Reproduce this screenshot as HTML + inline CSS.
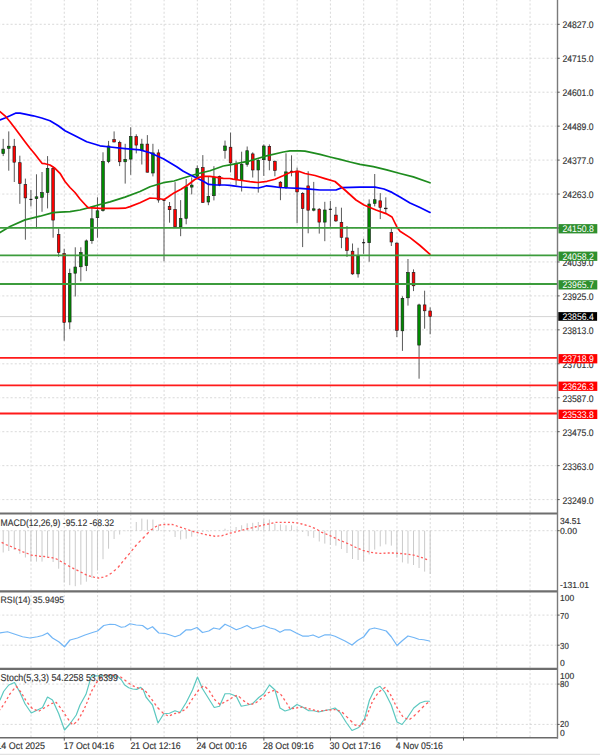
<!DOCTYPE html>
<html><head><meta charset="utf-8"><title>Chart</title>
<style>
html,body{margin:0;padding:0;background:#fff;width:600px;height:755px;overflow:hidden}
svg{display:block;font-family:"Liberation Sans", sans-serif}
</style></head>
<body>
<svg width="600" height="755" viewBox="0 0 600 755" text-rendering="geometricPrecision">
<rect x="0" y="0" width="600" height="755" fill="#ffffff"/>
<line x1="31" y1="0" x2="31" y2="512.3" stroke="#d0d0d0" stroke-width="0.8" stroke-dasharray="2.08 2.075" stroke-dashoffset="0.74"/>
<line x1="64.27" y1="0" x2="64.27" y2="512.3" stroke="#d0d0d0" stroke-width="0.8" stroke-dasharray="2.08 2.075" stroke-dashoffset="0.74"/>
<line x1="97.54" y1="0" x2="97.54" y2="512.3" stroke="#d0d0d0" stroke-width="0.8" stroke-dasharray="2.08 2.075" stroke-dashoffset="0.74"/>
<line x1="130.81" y1="0" x2="130.81" y2="512.3" stroke="#d0d0d0" stroke-width="0.8" stroke-dasharray="2.08 2.075" stroke-dashoffset="0.74"/>
<line x1="164.08" y1="0" x2="164.08" y2="512.3" stroke="#d0d0d0" stroke-width="0.8" stroke-dasharray="2.08 2.075" stroke-dashoffset="0.74"/>
<line x1="197.35" y1="0" x2="197.35" y2="512.3" stroke="#d0d0d0" stroke-width="0.8" stroke-dasharray="2.08 2.075" stroke-dashoffset="0.74"/>
<line x1="230.62" y1="0" x2="230.62" y2="512.3" stroke="#d0d0d0" stroke-width="0.8" stroke-dasharray="2.08 2.075" stroke-dashoffset="0.74"/>
<line x1="263.89" y1="0" x2="263.89" y2="512.3" stroke="#d0d0d0" stroke-width="0.8" stroke-dasharray="2.08 2.075" stroke-dashoffset="0.74"/>
<line x1="297.16" y1="0" x2="297.16" y2="512.3" stroke="#d0d0d0" stroke-width="0.8" stroke-dasharray="2.08 2.075" stroke-dashoffset="0.74"/>
<line x1="330.43" y1="0" x2="330.43" y2="512.3" stroke="#d0d0d0" stroke-width="0.8" stroke-dasharray="2.08 2.075" stroke-dashoffset="0.74"/>
<line x1="363.7" y1="0" x2="363.7" y2="512.3" stroke="#d0d0d0" stroke-width="0.8" stroke-dasharray="2.08 2.075" stroke-dashoffset="0.74"/>
<line x1="396.97" y1="0" x2="396.97" y2="512.3" stroke="#d0d0d0" stroke-width="0.8" stroke-dasharray="2.08 2.075" stroke-dashoffset="0.74"/>
<line x1="430.24" y1="0" x2="430.24" y2="512.3" stroke="#d0d0d0" stroke-width="0.8" stroke-dasharray="2.08 2.075" stroke-dashoffset="0.74"/>
<line x1="463.51" y1="0" x2="463.51" y2="512.3" stroke="#d0d0d0" stroke-width="0.8" stroke-dasharray="2.08 2.075" stroke-dashoffset="0.74"/>
<line x1="496.78" y1="0" x2="496.78" y2="512.3" stroke="#d0d0d0" stroke-width="0.8" stroke-dasharray="2.08 2.075" stroke-dashoffset="0.74"/>
<line x1="530.05" y1="0" x2="530.05" y2="512.3" stroke="#d0d0d0" stroke-width="0.8" stroke-dasharray="2.08 2.075" stroke-dashoffset="0.74"/>
<line x1="31" y1="514.5" x2="31" y2="589.8" stroke="#d0d0d0" stroke-width="0.8" stroke-dasharray="2.08 2.075" stroke-dashoffset="0.74"/>
<line x1="64.27" y1="514.5" x2="64.27" y2="589.8" stroke="#d0d0d0" stroke-width="0.8" stroke-dasharray="2.08 2.075" stroke-dashoffset="0.74"/>
<line x1="97.54" y1="514.5" x2="97.54" y2="589.8" stroke="#d0d0d0" stroke-width="0.8" stroke-dasharray="2.08 2.075" stroke-dashoffset="0.74"/>
<line x1="130.81" y1="514.5" x2="130.81" y2="589.8" stroke="#d0d0d0" stroke-width="0.8" stroke-dasharray="2.08 2.075" stroke-dashoffset="0.74"/>
<line x1="164.08" y1="514.5" x2="164.08" y2="589.8" stroke="#d0d0d0" stroke-width="0.8" stroke-dasharray="2.08 2.075" stroke-dashoffset="0.74"/>
<line x1="197.35" y1="514.5" x2="197.35" y2="589.8" stroke="#d0d0d0" stroke-width="0.8" stroke-dasharray="2.08 2.075" stroke-dashoffset="0.74"/>
<line x1="230.62" y1="514.5" x2="230.62" y2="589.8" stroke="#d0d0d0" stroke-width="0.8" stroke-dasharray="2.08 2.075" stroke-dashoffset="0.74"/>
<line x1="263.89" y1="514.5" x2="263.89" y2="589.8" stroke="#d0d0d0" stroke-width="0.8" stroke-dasharray="2.08 2.075" stroke-dashoffset="0.74"/>
<line x1="297.16" y1="514.5" x2="297.16" y2="589.8" stroke="#d0d0d0" stroke-width="0.8" stroke-dasharray="2.08 2.075" stroke-dashoffset="0.74"/>
<line x1="330.43" y1="514.5" x2="330.43" y2="589.8" stroke="#d0d0d0" stroke-width="0.8" stroke-dasharray="2.08 2.075" stroke-dashoffset="0.74"/>
<line x1="363.7" y1="514.5" x2="363.7" y2="589.8" stroke="#d0d0d0" stroke-width="0.8" stroke-dasharray="2.08 2.075" stroke-dashoffset="0.74"/>
<line x1="396.97" y1="514.5" x2="396.97" y2="589.8" stroke="#d0d0d0" stroke-width="0.8" stroke-dasharray="2.08 2.075" stroke-dashoffset="0.74"/>
<line x1="430.24" y1="514.5" x2="430.24" y2="589.8" stroke="#d0d0d0" stroke-width="0.8" stroke-dasharray="2.08 2.075" stroke-dashoffset="0.74"/>
<line x1="463.51" y1="514.5" x2="463.51" y2="589.8" stroke="#d0d0d0" stroke-width="0.8" stroke-dasharray="2.08 2.075" stroke-dashoffset="0.74"/>
<line x1="496.78" y1="514.5" x2="496.78" y2="589.8" stroke="#d0d0d0" stroke-width="0.8" stroke-dasharray="2.08 2.075" stroke-dashoffset="0.74"/>
<line x1="530.05" y1="514.5" x2="530.05" y2="589.8" stroke="#d0d0d0" stroke-width="0.8" stroke-dasharray="2.08 2.075" stroke-dashoffset="0.74"/>
<line x1="31" y1="591.6" x2="31" y2="667.8" stroke="#d0d0d0" stroke-width="0.8" stroke-dasharray="2.08 2.075" stroke-dashoffset="0.74"/>
<line x1="64.27" y1="591.6" x2="64.27" y2="667.8" stroke="#d0d0d0" stroke-width="0.8" stroke-dasharray="2.08 2.075" stroke-dashoffset="0.74"/>
<line x1="97.54" y1="591.6" x2="97.54" y2="667.8" stroke="#d0d0d0" stroke-width="0.8" stroke-dasharray="2.08 2.075" stroke-dashoffset="0.74"/>
<line x1="130.81" y1="591.6" x2="130.81" y2="667.8" stroke="#d0d0d0" stroke-width="0.8" stroke-dasharray="2.08 2.075" stroke-dashoffset="0.74"/>
<line x1="164.08" y1="591.6" x2="164.08" y2="667.8" stroke="#d0d0d0" stroke-width="0.8" stroke-dasharray="2.08 2.075" stroke-dashoffset="0.74"/>
<line x1="197.35" y1="591.6" x2="197.35" y2="667.8" stroke="#d0d0d0" stroke-width="0.8" stroke-dasharray="2.08 2.075" stroke-dashoffset="0.74"/>
<line x1="230.62" y1="591.6" x2="230.62" y2="667.8" stroke="#d0d0d0" stroke-width="0.8" stroke-dasharray="2.08 2.075" stroke-dashoffset="0.74"/>
<line x1="263.89" y1="591.6" x2="263.89" y2="667.8" stroke="#d0d0d0" stroke-width="0.8" stroke-dasharray="2.08 2.075" stroke-dashoffset="0.74"/>
<line x1="297.16" y1="591.6" x2="297.16" y2="667.8" stroke="#d0d0d0" stroke-width="0.8" stroke-dasharray="2.08 2.075" stroke-dashoffset="0.74"/>
<line x1="330.43" y1="591.6" x2="330.43" y2="667.8" stroke="#d0d0d0" stroke-width="0.8" stroke-dasharray="2.08 2.075" stroke-dashoffset="0.74"/>
<line x1="363.7" y1="591.6" x2="363.7" y2="667.8" stroke="#d0d0d0" stroke-width="0.8" stroke-dasharray="2.08 2.075" stroke-dashoffset="0.74"/>
<line x1="396.97" y1="591.6" x2="396.97" y2="667.8" stroke="#d0d0d0" stroke-width="0.8" stroke-dasharray="2.08 2.075" stroke-dashoffset="0.74"/>
<line x1="430.24" y1="591.6" x2="430.24" y2="667.8" stroke="#d0d0d0" stroke-width="0.8" stroke-dasharray="2.08 2.075" stroke-dashoffset="0.74"/>
<line x1="463.51" y1="591.6" x2="463.51" y2="667.8" stroke="#d0d0d0" stroke-width="0.8" stroke-dasharray="2.08 2.075" stroke-dashoffset="0.74"/>
<line x1="496.78" y1="591.6" x2="496.78" y2="667.8" stroke="#d0d0d0" stroke-width="0.8" stroke-dasharray="2.08 2.075" stroke-dashoffset="0.74"/>
<line x1="530.05" y1="591.6" x2="530.05" y2="667.8" stroke="#d0d0d0" stroke-width="0.8" stroke-dasharray="2.08 2.075" stroke-dashoffset="0.74"/>
<line x1="31" y1="669.6" x2="31" y2="737.6" stroke="#d0d0d0" stroke-width="0.8" stroke-dasharray="2.08 2.075" stroke-dashoffset="0.74"/>
<line x1="64.27" y1="669.6" x2="64.27" y2="737.6" stroke="#d0d0d0" stroke-width="0.8" stroke-dasharray="2.08 2.075" stroke-dashoffset="0.74"/>
<line x1="97.54" y1="669.6" x2="97.54" y2="737.6" stroke="#d0d0d0" stroke-width="0.8" stroke-dasharray="2.08 2.075" stroke-dashoffset="0.74"/>
<line x1="130.81" y1="669.6" x2="130.81" y2="737.6" stroke="#d0d0d0" stroke-width="0.8" stroke-dasharray="2.08 2.075" stroke-dashoffset="0.74"/>
<line x1="164.08" y1="669.6" x2="164.08" y2="737.6" stroke="#d0d0d0" stroke-width="0.8" stroke-dasharray="2.08 2.075" stroke-dashoffset="0.74"/>
<line x1="197.35" y1="669.6" x2="197.35" y2="737.6" stroke="#d0d0d0" stroke-width="0.8" stroke-dasharray="2.08 2.075" stroke-dashoffset="0.74"/>
<line x1="230.62" y1="669.6" x2="230.62" y2="737.6" stroke="#d0d0d0" stroke-width="0.8" stroke-dasharray="2.08 2.075" stroke-dashoffset="0.74"/>
<line x1="263.89" y1="669.6" x2="263.89" y2="737.6" stroke="#d0d0d0" stroke-width="0.8" stroke-dasharray="2.08 2.075" stroke-dashoffset="0.74"/>
<line x1="297.16" y1="669.6" x2="297.16" y2="737.6" stroke="#d0d0d0" stroke-width="0.8" stroke-dasharray="2.08 2.075" stroke-dashoffset="0.74"/>
<line x1="330.43" y1="669.6" x2="330.43" y2="737.6" stroke="#d0d0d0" stroke-width="0.8" stroke-dasharray="2.08 2.075" stroke-dashoffset="0.74"/>
<line x1="363.7" y1="669.6" x2="363.7" y2="737.6" stroke="#d0d0d0" stroke-width="0.8" stroke-dasharray="2.08 2.075" stroke-dashoffset="0.74"/>
<line x1="396.97" y1="669.6" x2="396.97" y2="737.6" stroke="#d0d0d0" stroke-width="0.8" stroke-dasharray="2.08 2.075" stroke-dashoffset="0.74"/>
<line x1="430.24" y1="669.6" x2="430.24" y2="737.6" stroke="#d0d0d0" stroke-width="0.8" stroke-dasharray="2.08 2.075" stroke-dashoffset="0.74"/>
<line x1="463.51" y1="669.6" x2="463.51" y2="737.6" stroke="#d0d0d0" stroke-width="0.8" stroke-dasharray="2.08 2.075" stroke-dashoffset="0.74"/>
<line x1="496.78" y1="669.6" x2="496.78" y2="737.6" stroke="#d0d0d0" stroke-width="0.8" stroke-dasharray="2.08 2.075" stroke-dashoffset="0.74"/>
<line x1="530.05" y1="669.6" x2="530.05" y2="737.6" stroke="#d0d0d0" stroke-width="0.8" stroke-dasharray="2.08 2.075" stroke-dashoffset="0.74"/>
<line x1="0" y1="24.3" x2="556.5" y2="24.3" stroke="#d0d0d0" stroke-width="0.8" stroke-dasharray="2.08 2.075" stroke-dashoffset="1.9"/>
<line x1="0" y1="58.25" x2="556.5" y2="58.25" stroke="#d0d0d0" stroke-width="0.8" stroke-dasharray="2.08 2.075" stroke-dashoffset="1.9"/>
<line x1="0" y1="92.2" x2="556.5" y2="92.2" stroke="#d0d0d0" stroke-width="0.8" stroke-dasharray="2.08 2.075" stroke-dashoffset="1.9"/>
<line x1="0" y1="126.15" x2="556.5" y2="126.15" stroke="#d0d0d0" stroke-width="0.8" stroke-dasharray="2.08 2.075" stroke-dashoffset="1.9"/>
<line x1="0" y1="160.1" x2="556.5" y2="160.1" stroke="#d0d0d0" stroke-width="0.8" stroke-dasharray="2.08 2.075" stroke-dashoffset="1.9"/>
<line x1="0" y1="194.05" x2="556.5" y2="194.05" stroke="#d0d0d0" stroke-width="0.8" stroke-dasharray="2.08 2.075" stroke-dashoffset="1.9"/>
<line x1="0" y1="228" x2="556.5" y2="228" stroke="#d0d0d0" stroke-width="0.8" stroke-dasharray="2.08 2.075" stroke-dashoffset="1.9"/>
<line x1="0" y1="261.95" x2="556.5" y2="261.95" stroke="#d0d0d0" stroke-width="0.8" stroke-dasharray="2.08 2.075" stroke-dashoffset="1.9"/>
<line x1="0" y1="295.9" x2="556.5" y2="295.9" stroke="#d0d0d0" stroke-width="0.8" stroke-dasharray="2.08 2.075" stroke-dashoffset="1.9"/>
<line x1="0" y1="329.85" x2="556.5" y2="329.85" stroke="#d0d0d0" stroke-width="0.8" stroke-dasharray="2.08 2.075" stroke-dashoffset="1.9"/>
<line x1="0" y1="363.8" x2="556.5" y2="363.8" stroke="#d0d0d0" stroke-width="0.8" stroke-dasharray="2.08 2.075" stroke-dashoffset="1.9"/>
<line x1="0" y1="397.75" x2="556.5" y2="397.75" stroke="#d0d0d0" stroke-width="0.8" stroke-dasharray="2.08 2.075" stroke-dashoffset="1.9"/>
<line x1="0" y1="431.7" x2="556.5" y2="431.7" stroke="#d0d0d0" stroke-width="0.8" stroke-dasharray="2.08 2.075" stroke-dashoffset="1.9"/>
<line x1="0" y1="465.65" x2="556.5" y2="465.65" stroke="#d0d0d0" stroke-width="0.8" stroke-dasharray="2.08 2.075" stroke-dashoffset="1.9"/>
<line x1="0" y1="499.6" x2="556.5" y2="499.6" stroke="#d0d0d0" stroke-width="0.8" stroke-dasharray="2.08 2.075" stroke-dashoffset="1.9"/>
<line x1="0" y1="530.7" x2="556.5" y2="530.7" stroke="#d0d0d0" stroke-width="0.8" stroke-dasharray="2.08 2.075" stroke-dashoffset="1.9"/>
<line x1="0" y1="615.1" x2="556.5" y2="615.1" stroke="#d0d0d0" stroke-width="0.8" stroke-dasharray="2.08 2.075" stroke-dashoffset="1.9"/>
<line x1="0" y1="645.2" x2="556.5" y2="645.2" stroke="#d0d0d0" stroke-width="0.8" stroke-dasharray="2.08 2.075" stroke-dashoffset="1.9"/>
<line x1="0" y1="684.1" x2="556.5" y2="684.1" stroke="#d0d0d0" stroke-width="0.8" stroke-dasharray="2.08 2.075" stroke-dashoffset="1.9"/>
<line x1="0" y1="724.4" x2="556.5" y2="724.4" stroke="#d0d0d0" stroke-width="0.8" stroke-dasharray="2.08 2.075" stroke-dashoffset="1.9"/>
<line x1="0" y1="316.6" x2="557.5" y2="316.6" stroke="#c8c8c8" stroke-width="0.8"/>
<line x1="3.2" y1="138.9" x2="3.2" y2="156.1" stroke="#5a5a5a" stroke-width="1"/>
<rect x="1.85" y="149.1" width="2.7" height="4.5" fill="#008a00" stroke="#1a1a1a" stroke-width="0.6"/>
<line x1="8.75" y1="131.4" x2="8.75" y2="170.7" stroke="#5a5a5a" stroke-width="1"/>
<rect x="7.4" y="146.2" width="2.7" height="2.1" fill="#008a00" stroke="#1a1a1a" stroke-width="0.6"/>
<line x1="14.29" y1="138.9" x2="14.29" y2="182" stroke="#5a5a5a" stroke-width="1"/>
<rect x="12.94" y="146.2" width="2.7" height="16" fill="#ff0000" stroke="#1a1a1a" stroke-width="0.6"/>
<line x1="19.83" y1="155.7" x2="19.83" y2="203.8" stroke="#5a5a5a" stroke-width="1"/>
<rect x="18.48" y="162.7" width="2.7" height="20.7" fill="#ff0000" stroke="#1a1a1a" stroke-width="0.6"/>
<line x1="25.38" y1="178.6" x2="25.38" y2="239.7" stroke="#5a5a5a" stroke-width="1"/>
<rect x="24.03" y="184.6" width="2.7" height="13.3" fill="#ff0000" stroke="#1a1a1a" stroke-width="0.6"/>
<line x1="30.93" y1="189.9" x2="30.93" y2="206.5" stroke="#5a5a5a" stroke-width="1"/>
<line x1="29.43" y1="199.4" x2="32.42" y2="199.4" stroke="#111" stroke-width="1.1"/>
<line x1="36.47" y1="174.3" x2="36.47" y2="228.5" stroke="#5a5a5a" stroke-width="1"/>
<rect x="35.12" y="196.8" width="2.7" height="1.8" fill="#008a00" stroke="#1a1a1a" stroke-width="0.6"/>
<line x1="42.02" y1="172" x2="42.02" y2="211.8" stroke="#5a5a5a" stroke-width="1"/>
<rect x="40.66" y="192.6" width="2.7" height="4.7" fill="#008a00" stroke="#1a1a1a" stroke-width="0.6"/>
<line x1="47.56" y1="156.1" x2="47.56" y2="208.4" stroke="#5a5a5a" stroke-width="1"/>
<rect x="46.21" y="168.3" width="2.7" height="24.2" fill="#008a00" stroke="#1a1a1a" stroke-width="0.6"/>
<line x1="53.11" y1="166.7" x2="53.11" y2="237.7" stroke="#5a5a5a" stroke-width="1"/>
<rect x="51.76" y="168.3" width="2.7" height="51.8" fill="#ff0000" stroke="#1a1a1a" stroke-width="0.6"/>
<line x1="58.65" y1="228.5" x2="58.65" y2="256.8" stroke="#5a5a5a" stroke-width="1"/>
<rect x="57.3" y="234.5" width="2.7" height="18" fill="#ff0000" stroke="#1a1a1a" stroke-width="0.6"/>
<line x1="64.19" y1="248.8" x2="64.19" y2="340.7" stroke="#5a5a5a" stroke-width="1"/>
<rect x="62.84" y="253.6" width="2.7" height="68.9" fill="#ff0000" stroke="#1a1a1a" stroke-width="0.6"/>
<line x1="69.74" y1="268.7" x2="69.74" y2="329.1" stroke="#5a5a5a" stroke-width="1"/>
<rect x="68.39" y="273.3" width="2.7" height="48.7" fill="#008a00" stroke="#1a1a1a" stroke-width="0.6"/>
<line x1="75.28" y1="247.3" x2="75.28" y2="296.5" stroke="#5a5a5a" stroke-width="1"/>
<rect x="73.93" y="267" width="2.7" height="6.2" fill="#008a00" stroke="#1a1a1a" stroke-width="0.6"/>
<line x1="80.83" y1="247.3" x2="80.83" y2="281.4" stroke="#5a5a5a" stroke-width="1"/>
<rect x="79.48" y="252.6" width="2.7" height="14.2" fill="#008a00" stroke="#1a1a1a" stroke-width="0.6"/>
<line x1="86.38" y1="239.5" x2="86.38" y2="271.1" stroke="#5a5a5a" stroke-width="1"/>
<rect x="85.02" y="240.9" width="2.7" height="24.8" fill="#008a00" stroke="#1a1a1a" stroke-width="0.6"/>
<line x1="91.92" y1="207.7" x2="91.92" y2="243.8" stroke="#5a5a5a" stroke-width="1"/>
<rect x="90.57" y="218.8" width="2.7" height="21.9" fill="#008a00" stroke="#1a1a1a" stroke-width="0.6"/>
<line x1="97.47" y1="197.3" x2="97.47" y2="237.7" stroke="#5a5a5a" stroke-width="1"/>
<rect x="96.11" y="210.8" width="2.7" height="6.9" fill="#008a00" stroke="#1a1a1a" stroke-width="0.6"/>
<line x1="103.01" y1="152.3" x2="103.01" y2="211.6" stroke="#5a5a5a" stroke-width="1"/>
<rect x="101.66" y="161.5" width="2.7" height="49.1" fill="#008a00" stroke="#1a1a1a" stroke-width="0.6"/>
<line x1="108.56" y1="140.9" x2="108.56" y2="163.2" stroke="#5a5a5a" stroke-width="1"/>
<rect x="107.2" y="146" width="2.7" height="15.6" fill="#008a00" stroke="#1a1a1a" stroke-width="0.6"/>
<line x1="114.1" y1="131.4" x2="114.1" y2="142.3" stroke="#5a5a5a" stroke-width="1"/>
<rect x="112.75" y="139.6" width="2.7" height="2.4" fill="#ff0000" stroke="#1a1a1a" stroke-width="0.6"/>
<line x1="119.64" y1="140.7" x2="119.64" y2="166.1" stroke="#5a5a5a" stroke-width="1"/>
<rect x="118.29" y="142.6" width="2.7" height="19.2" fill="#ff0000" stroke="#1a1a1a" stroke-width="0.6"/>
<line x1="125.19" y1="143.8" x2="125.19" y2="183.6" stroke="#5a5a5a" stroke-width="1"/>
<rect x="123.84" y="159.3" width="2.7" height="2.5" fill="#008a00" stroke="#1a1a1a" stroke-width="0.6"/>
<line x1="130.73" y1="127.2" x2="130.73" y2="174.8" stroke="#5a5a5a" stroke-width="1"/>
<rect x="129.38" y="136.5" width="2.7" height="22.6" fill="#008a00" stroke="#1a1a1a" stroke-width="0.6"/>
<line x1="136.28" y1="134.3" x2="136.28" y2="153.4" stroke="#5a5a5a" stroke-width="1"/>
<rect x="134.93" y="136.5" width="2.7" height="8.6" fill="#ff0000" stroke="#1a1a1a" stroke-width="0.6"/>
<line x1="141.82" y1="138.8" x2="141.82" y2="164.5" stroke="#5a5a5a" stroke-width="1"/>
<rect x="140.47" y="144.1" width="2.7" height="5.8" fill="#008a00" stroke="#1a1a1a" stroke-width="0.6"/>
<line x1="147.37" y1="135.1" x2="147.37" y2="172.5" stroke="#5a5a5a" stroke-width="1"/>
<rect x="146.02" y="144.1" width="2.7" height="28.1" fill="#ff0000" stroke="#1a1a1a" stroke-width="0.6"/>
<line x1="152.91" y1="143.8" x2="152.91" y2="176.4" stroke="#5a5a5a" stroke-width="1"/>
<rect x="151.56" y="152.9" width="2.7" height="20.1" fill="#008a00" stroke="#1a1a1a" stroke-width="0.6"/>
<line x1="158.46" y1="149.4" x2="158.46" y2="202.7" stroke="#5a5a5a" stroke-width="1"/>
<rect x="157.11" y="152.9" width="2.7" height="47.1" fill="#ff0000" stroke="#1a1a1a" stroke-width="0.6"/>
<line x1="164" y1="198.8" x2="164" y2="261.3" stroke="#5a5a5a" stroke-width="1"/>
<line x1="162.5" y1="200.3" x2="165.5" y2="200.3" stroke="#111" stroke-width="1.1"/>
<line x1="169.55" y1="202" x2="169.55" y2="222.7" stroke="#5a5a5a" stroke-width="1"/>
<rect x="168.2" y="206.3" width="2.7" height="3.4" fill="#ff0000" stroke="#1a1a1a" stroke-width="0.6"/>
<line x1="175.09" y1="182.1" x2="175.09" y2="227.1" stroke="#5a5a5a" stroke-width="1"/>
<rect x="173.75" y="209.5" width="2.7" height="17.3" fill="#ff0000" stroke="#1a1a1a" stroke-width="0.6"/>
<line x1="180.64" y1="200.1" x2="180.64" y2="236.2" stroke="#5a5a5a" stroke-width="1"/>
<rect x="179.29" y="218.5" width="2.7" height="8.3" fill="#008a00" stroke="#1a1a1a" stroke-width="0.6"/>
<line x1="186.18" y1="179" x2="186.18" y2="224.3" stroke="#5a5a5a" stroke-width="1"/>
<rect x="184.83" y="186.7" width="2.7" height="31.7" fill="#008a00" stroke="#1a1a1a" stroke-width="0.6"/>
<line x1="191.73" y1="177.4" x2="191.73" y2="194.4" stroke="#5a5a5a" stroke-width="1"/>
<rect x="190.38" y="185.1" width="2.7" height="2" fill="#008a00" stroke="#1a1a1a" stroke-width="0.6"/>
<line x1="197.27" y1="165.4" x2="197.27" y2="178.2" stroke="#5a5a5a" stroke-width="1"/>
<rect x="195.92" y="168.6" width="2.7" height="7.7" fill="#008a00" stroke="#1a1a1a" stroke-width="0.6"/>
<line x1="202.82" y1="155.1" x2="202.82" y2="202.8" stroke="#5a5a5a" stroke-width="1"/>
<rect x="201.47" y="167.6" width="2.7" height="34.9" fill="#ff0000" stroke="#1a1a1a" stroke-width="0.6"/>
<line x1="208.36" y1="176.6" x2="208.36" y2="205.2" stroke="#5a5a5a" stroke-width="1"/>
<rect x="207.01" y="196.3" width="2.7" height="5.7" fill="#008a00" stroke="#1a1a1a" stroke-width="0.6"/>
<line x1="213.91" y1="166.2" x2="213.91" y2="200.4" stroke="#5a5a5a" stroke-width="1"/>
<rect x="212.56" y="177.7" width="2.7" height="18" fill="#008a00" stroke="#1a1a1a" stroke-width="0.6"/>
<line x1="219.45" y1="175.6" x2="219.45" y2="186.2" stroke="#5a5a5a" stroke-width="1"/>
<rect x="218.1" y="176.5" width="2.7" height="8.6" fill="#ff0000" stroke="#1a1a1a" stroke-width="0.6"/>
<line x1="225" y1="140.6" x2="225" y2="158.7" stroke="#5a5a5a" stroke-width="1"/>
<rect x="223.65" y="146" width="2.7" height="4.5" fill="#008a00" stroke="#1a1a1a" stroke-width="0.6"/>
<line x1="230.54" y1="132.6" x2="230.54" y2="172.4" stroke="#5a5a5a" stroke-width="1"/>
<rect x="229.19" y="147.2" width="2.7" height="15.7" fill="#ff0000" stroke="#1a1a1a" stroke-width="0.6"/>
<line x1="236.09" y1="160.8" x2="236.09" y2="185.4" stroke="#5a5a5a" stroke-width="1"/>
<rect x="234.74" y="163.5" width="2.7" height="16" fill="#ff0000" stroke="#1a1a1a" stroke-width="0.6"/>
<line x1="241.63" y1="151.7" x2="241.63" y2="191.5" stroke="#5a5a5a" stroke-width="1"/>
<rect x="240.28" y="164.3" width="2.7" height="16" fill="#008a00" stroke="#1a1a1a" stroke-width="0.6"/>
<line x1="247.18" y1="146.5" x2="247.18" y2="166.7" stroke="#5a5a5a" stroke-width="1"/>
<rect x="245.83" y="150.7" width="2.7" height="13.7" fill="#008a00" stroke="#1a1a1a" stroke-width="0.6"/>
<line x1="252.72" y1="152.3" x2="252.72" y2="177.5" stroke="#5a5a5a" stroke-width="1"/>
<rect x="251.38" y="153.9" width="2.7" height="16.1" fill="#ff0000" stroke="#1a1a1a" stroke-width="0.6"/>
<line x1="258.27" y1="159.2" x2="258.27" y2="192.6" stroke="#5a5a5a" stroke-width="1"/>
<rect x="256.92" y="160.3" width="2.7" height="9.7" fill="#008a00" stroke="#1a1a1a" stroke-width="0.6"/>
<line x1="263.81" y1="144.4" x2="263.81" y2="175.9" stroke="#5a5a5a" stroke-width="1"/>
<rect x="262.47" y="146" width="2.7" height="13.7" fill="#008a00" stroke="#1a1a1a" stroke-width="0.6"/>
<line x1="269.36" y1="144.4" x2="269.36" y2="170.3" stroke="#5a5a5a" stroke-width="1"/>
<rect x="268.01" y="146.3" width="2.7" height="14.2" fill="#ff0000" stroke="#1a1a1a" stroke-width="0.6"/>
<line x1="274.9" y1="160.4" x2="274.9" y2="176.3" stroke="#5a5a5a" stroke-width="1"/>
<rect x="273.56" y="161.5" width="2.7" height="9" fill="#ff0000" stroke="#1a1a1a" stroke-width="0.6"/>
<line x1="280.45" y1="181.1" x2="280.45" y2="200.2" stroke="#5a5a5a" stroke-width="1"/>
<rect x="279.1" y="182.2" width="2.7" height="5" fill="#ff0000" stroke="#1a1a1a" stroke-width="0.6"/>
<line x1="286" y1="153.3" x2="286" y2="189" stroke="#5a5a5a" stroke-width="1"/>
<rect x="284.65" y="171.9" width="2.7" height="15.3" fill="#008a00" stroke="#1a1a1a" stroke-width="0.6"/>
<line x1="291.54" y1="155.3" x2="291.54" y2="176.3" stroke="#5a5a5a" stroke-width="1"/>
<line x1="290.04" y1="171.35" x2="293.04" y2="171.35" stroke="#111" stroke-width="1.1"/>
<line x1="297.08" y1="167.6" x2="297.08" y2="223.2" stroke="#5a5a5a" stroke-width="1"/>
<rect x="295.74" y="171.1" width="2.7" height="20.8" fill="#ff0000" stroke="#1a1a1a" stroke-width="0.6"/>
<line x1="302.63" y1="192.2" x2="302.63" y2="247.1" stroke="#5a5a5a" stroke-width="1"/>
<rect x="301.28" y="193.3" width="2.7" height="15.3" fill="#ff0000" stroke="#1a1a1a" stroke-width="0.6"/>
<line x1="308.18" y1="171.2" x2="308.18" y2="233.3" stroke="#5a5a5a" stroke-width="1"/>
<rect x="306.83" y="185.9" width="2.7" height="24.3" fill="#ff0000" stroke="#1a1a1a" stroke-width="0.6"/>
<line x1="313.72" y1="181.9" x2="313.72" y2="211.3" stroke="#5a5a5a" stroke-width="1"/>
<rect x="312.37" y="208.8" width="2.7" height="1.4" fill="#008a00" stroke="#1a1a1a" stroke-width="0.6"/>
<line x1="319.26" y1="208.1" x2="319.26" y2="233.6" stroke="#5a5a5a" stroke-width="1"/>
<rect x="317.92" y="209.2" width="2.7" height="12.9" fill="#ff0000" stroke="#1a1a1a" stroke-width="0.6"/>
<line x1="324.81" y1="201.8" x2="324.81" y2="241.2" stroke="#5a5a5a" stroke-width="1"/>
<rect x="323.46" y="210" width="2.7" height="12.1" fill="#008a00" stroke="#1a1a1a" stroke-width="0.6"/>
<line x1="330.35" y1="201" x2="330.35" y2="226.8" stroke="#5a5a5a" stroke-width="1"/>
<line x1="328.85" y1="209.3" x2="331.85" y2="209.3" stroke="#111" stroke-width="1.1"/>
<line x1="335.9" y1="206.9" x2="335.9" y2="222" stroke="#5a5a5a" stroke-width="1"/>
<rect x="334.55" y="215.1" width="2.7" height="5.8" fill="#ff0000" stroke="#1a1a1a" stroke-width="0.6"/>
<line x1="341.44" y1="207.7" x2="341.44" y2="248.2" stroke="#5a5a5a" stroke-width="1"/>
<rect x="340.1" y="222.3" width="2.7" height="15" fill="#ff0000" stroke="#1a1a1a" stroke-width="0.6"/>
<line x1="346.99" y1="226" x2="346.99" y2="257" stroke="#5a5a5a" stroke-width="1"/>
<rect x="345.64" y="237.9" width="2.7" height="12.7" fill="#ff0000" stroke="#1a1a1a" stroke-width="0.6"/>
<line x1="352.53" y1="243.5" x2="352.53" y2="274.8" stroke="#5a5a5a" stroke-width="1"/>
<rect x="351.19" y="251.2" width="2.7" height="22.7" fill="#ff0000" stroke="#1a1a1a" stroke-width="0.6"/>
<line x1="358.08" y1="247.8" x2="358.08" y2="277.6" stroke="#5a5a5a" stroke-width="1"/>
<rect x="356.73" y="256" width="2.7" height="17.9" fill="#008a00" stroke="#1a1a1a" stroke-width="0.6"/>
<line x1="363.62" y1="238.7" x2="363.62" y2="253.8" stroke="#5a5a5a" stroke-width="1"/>
<line x1="362.12" y1="242.7" x2="365.12" y2="242.7" stroke="#111" stroke-width="1.1"/>
<line x1="369.17" y1="199.4" x2="369.17" y2="261.7" stroke="#5a5a5a" stroke-width="1"/>
<rect x="367.82" y="204" width="2.7" height="38.7" fill="#008a00" stroke="#1a1a1a" stroke-width="0.6"/>
<line x1="374.71" y1="174" x2="374.71" y2="206.4" stroke="#5a5a5a" stroke-width="1"/>
<rect x="373.37" y="199.7" width="2.7" height="3.7" fill="#008a00" stroke="#1a1a1a" stroke-width="0.6"/>
<line x1="380.26" y1="193.1" x2="380.26" y2="219.1" stroke="#5a5a5a" stroke-width="1"/>
<rect x="378.91" y="200.8" width="2.7" height="6.6" fill="#ff0000" stroke="#1a1a1a" stroke-width="0.6"/>
<line x1="385.81" y1="197.3" x2="385.81" y2="213.7" stroke="#5a5a5a" stroke-width="1"/>
<rect x="384.46" y="208.1" width="2.7" height="0.7" fill="#ff0000" stroke="#1a1a1a" stroke-width="0.6"/>
<line x1="391.35" y1="228" x2="391.35" y2="246" stroke="#5a5a5a" stroke-width="1"/>
<rect x="390" y="232.6" width="2.7" height="9.4" fill="#ff0000" stroke="#1a1a1a" stroke-width="0.6"/>
<line x1="396.89" y1="242.3" x2="396.89" y2="337" stroke="#5a5a5a" stroke-width="1"/>
<rect x="395.55" y="243.1" width="2.7" height="87.2" fill="#ff0000" stroke="#1a1a1a" stroke-width="0.6"/>
<line x1="402.44" y1="296.3" x2="402.44" y2="350.9" stroke="#5a5a5a" stroke-width="1"/>
<rect x="401.09" y="298.4" width="2.7" height="32.4" fill="#008a00" stroke="#1a1a1a" stroke-width="0.6"/>
<line x1="407.98" y1="259" x2="407.98" y2="305.6" stroke="#5a5a5a" stroke-width="1"/>
<rect x="406.63" y="272.5" width="2.7" height="25.3" fill="#008a00" stroke="#1a1a1a" stroke-width="0.6"/>
<line x1="413.53" y1="269.4" x2="413.53" y2="291.1" stroke="#5a5a5a" stroke-width="1"/>
<rect x="412.18" y="272.5" width="2.7" height="13.3" fill="#ff0000" stroke="#1a1a1a" stroke-width="0.6"/>
<line x1="419.07" y1="303.7" x2="419.07" y2="378.7" stroke="#5a5a5a" stroke-width="1"/>
<rect x="417.73" y="304.9" width="2.7" height="40.2" fill="#008a00" stroke="#1a1a1a" stroke-width="0.6"/>
<line x1="424.62" y1="290.7" x2="424.62" y2="328.7" stroke="#5a5a5a" stroke-width="1"/>
<rect x="423.27" y="304.9" width="2.7" height="5.9" fill="#ff0000" stroke="#1a1a1a" stroke-width="0.6"/>
<line x1="430.16" y1="307.4" x2="430.16" y2="334.3" stroke="#5a5a5a" stroke-width="1"/>
<rect x="428.81" y="311" width="2.7" height="5.4" fill="#ff0000" stroke="#1a1a1a" stroke-width="0.6"/>
<polyline points="0,232.5 10,226.5 25,219.9 40,216.2 53,212.6 60,212.2 70,211.6 80,210 90,207.4 100,204.5 110,201.9 125,197.1 140,191.5 150,186.7 163.3,182.7 174,181 183.3,178 196.7,174 210,170.7 223.3,166 230,164.8 250,160.8 266.7,155.8 283.3,152 290,150.8 300,150.8 305,151.2 320,154.4 330,157 340,159.4 350,162 360,164.4 373.3,166.7 386.7,169.9 400,173.5 413.3,176.9 430,182.8" fill="none" stroke="#1e8c1e" stroke-width="1.7" stroke-linejoin="round" stroke-linecap="round"/>
<polyline points="0,120 5,118 10,115.8 16,113 20,113.2 25,114.2 33.3,115.8 41.7,118 50,120.8 58.3,125.8 65,130.8 75,135.8 86.7,141.7 100,145.8 110,147 125,148.6 140,149.9 150,152.7 163.3,158.7 176.7,166.7 183.3,171.3 190,174.7 196.7,178 203.3,181.3 208.7,184.4 216.7,185 224.7,185 230,185.3 233.3,185.8 241.7,187 250,187.5 258.3,188 263.3,186.7 266.7,185.8 271.7,186.3 280,187.5 290,188 300,188.3 310,189.1 320,190 336,190 342,187.6 360,187.2 375,187.2 384,189 392,192.4 400,197 410,203 420,207.6 430,212.4" fill="none" stroke="#0000ff" stroke-width="1.7" stroke-linejoin="round" stroke-linecap="round"/>
<polyline points="0,111.7 5,115.8 10,121.7 15,128.3 20,135 25,141.7 30,148.3 35,154.2 40,160.8 42,163.3 45,163.7 50,165 55,168.3 60,173.3 65,181.5 70,187.5 75,192.5 80,199 85,204.5 88,207.7 100,208.3 110,208.4 118,208.4 125,208.2 130,206.6 140,202.7 150,198 158,198.5 164.2,199.5 168.4,196.8 174,192.9 181,189.2 187.8,185 194.8,179.5 199,177.4 203.3,176.4 210,176.3 216.7,177.3 223.3,178.3 230,178.5 233,179.2 242,180.5 250,181.7 258,182.5 267,181.3 275,179.2 283,175.8 290,172.5 297,171.3 300,171.7 305,173.5 315,175.5 325,178.6 335,181.5 346,191 356,200 364,205 376,210 386,213.6 392,217 397,227.2 400,231.2 410,237.6 420,245.5 430,254.3" fill="none" stroke="#ff0000" stroke-width="1.7" stroke-linejoin="round" stroke-linecap="round"/>
<line x1="0" y1="227.9" x2="557.5" y2="227.9" stroke="#3c9c3c" stroke-width="1.8"/>
<line x1="0" y1="255.4" x2="557.5" y2="255.4" stroke="#3c9c3c" stroke-width="1.8"/>
<line x1="0" y1="284" x2="557.5" y2="284" stroke="#3c9c3c" stroke-width="1.8"/>
<line x1="0" y1="357.9" x2="557.5" y2="357.9" stroke="#ff1a1a" stroke-width="1.8"/>
<line x1="0" y1="385.4" x2="557.5" y2="385.4" stroke="#ff1a1a" stroke-width="1.8"/>
<line x1="0" y1="413.5" x2="557.5" y2="413.5" stroke="#ff1a1a" stroke-width="1.8"/>
<line x1="3.2" y1="530.7" x2="3.2" y2="552.5" stroke="#c4c4c4" stroke-width="0.9"/>
<line x1="8.75" y1="530.7" x2="8.75" y2="551" stroke="#c4c4c4" stroke-width="0.9"/>
<line x1="14.29" y1="530.7" x2="14.29" y2="550" stroke="#c4c4c4" stroke-width="0.9"/>
<line x1="19.83" y1="530.7" x2="19.83" y2="553.75" stroke="#c4c4c4" stroke-width="0.9"/>
<line x1="25.38" y1="530.7" x2="25.38" y2="557.5" stroke="#c4c4c4" stroke-width="0.9"/>
<line x1="30.93" y1="530.7" x2="30.93" y2="561.5" stroke="#c4c4c4" stroke-width="0.9"/>
<line x1="36.47" y1="530.7" x2="36.47" y2="561.6" stroke="#c4c4c4" stroke-width="0.9"/>
<line x1="42.02" y1="530.7" x2="42.02" y2="561.6" stroke="#c4c4c4" stroke-width="0.9"/>
<line x1="47.56" y1="530.7" x2="47.56" y2="557.9" stroke="#c4c4c4" stroke-width="0.9"/>
<line x1="53.11" y1="530.7" x2="53.11" y2="562" stroke="#c4c4c4" stroke-width="0.9"/>
<line x1="58.65" y1="530.7" x2="58.65" y2="568.7" stroke="#c4c4c4" stroke-width="0.9"/>
<line x1="64.19" y1="530.7" x2="64.19" y2="582.5" stroke="#c4c4c4" stroke-width="0.9"/>
<line x1="69.74" y1="530.7" x2="69.74" y2="585.2" stroke="#c4c4c4" stroke-width="0.9"/>
<line x1="75.28" y1="530.7" x2="75.28" y2="586.2" stroke="#c4c4c4" stroke-width="0.9"/>
<line x1="80.83" y1="530.7" x2="80.83" y2="584.7" stroke="#c4c4c4" stroke-width="0.9"/>
<line x1="86.38" y1="530.7" x2="86.38" y2="581.7" stroke="#c4c4c4" stroke-width="0.9"/>
<line x1="91.92" y1="530.7" x2="91.92" y2="578" stroke="#c4c4c4" stroke-width="0.9"/>
<line x1="97.47" y1="530.7" x2="97.47" y2="570.5" stroke="#c4c4c4" stroke-width="0.9"/>
<line x1="103.01" y1="530.7" x2="103.01" y2="559.2" stroke="#c4c4c4" stroke-width="0.9"/>
<line x1="108.56" y1="530.7" x2="108.56" y2="548.7" stroke="#c4c4c4" stroke-width="0.9"/>
<line x1="114.1" y1="530.7" x2="114.1" y2="539" stroke="#c4c4c4" stroke-width="0.9"/>
<line x1="119.64" y1="530.7" x2="119.64" y2="534.5" stroke="#c4c4c4" stroke-width="0.9"/>
<line x1="125.19" y1="530.7" x2="125.19" y2="531.2" stroke="#c4c4c4" stroke-width="0.9"/>
<line x1="130.73" y1="530.7" x2="130.73" y2="530" stroke="#c4c4c4" stroke-width="0.9"/>
<line x1="136.28" y1="530.7" x2="136.28" y2="522" stroke="#c4c4c4" stroke-width="0.9"/>
<line x1="141.82" y1="530.7" x2="141.82" y2="518.6" stroke="#c4c4c4" stroke-width="0.9"/>
<line x1="147.37" y1="530.7" x2="147.37" y2="519.5" stroke="#c4c4c4" stroke-width="0.9"/>
<line x1="152.91" y1="530.7" x2="152.91" y2="519.5" stroke="#c4c4c4" stroke-width="0.9"/>
<line x1="158.46" y1="530.7" x2="158.46" y2="524.5" stroke="#c4c4c4" stroke-width="0.9"/>
<line x1="164" y1="530.7" x2="164" y2="529.8" stroke="#c4c4c4" stroke-width="0.9"/>
<line x1="169.55" y1="530.7" x2="169.55" y2="531.5" stroke="#c4c4c4" stroke-width="0.9"/>
<line x1="175.09" y1="530.7" x2="175.09" y2="537" stroke="#c4c4c4" stroke-width="0.9"/>
<line x1="180.64" y1="530.7" x2="180.64" y2="539.5" stroke="#c4c4c4" stroke-width="0.9"/>
<line x1="186.18" y1="530.7" x2="186.18" y2="538.7" stroke="#c4c4c4" stroke-width="0.9"/>
<line x1="191.73" y1="530.7" x2="191.73" y2="536.7" stroke="#c4c4c4" stroke-width="0.9"/>
<line x1="197.27" y1="530.7" x2="197.27" y2="532.8" stroke="#c4c4c4" stroke-width="0.9"/>
<line x1="202.82" y1="530.7" x2="202.82" y2="532" stroke="#c4c4c4" stroke-width="0.9"/>
<line x1="208.36" y1="530.7" x2="208.36" y2="531.5" stroke="#c4c4c4" stroke-width="0.9"/>
<line x1="213.91" y1="530.7" x2="213.91" y2="531" stroke="#c4c4c4" stroke-width="0.9"/>
<line x1="219.45" y1="530.7" x2="219.45" y2="530.2" stroke="#c4c4c4" stroke-width="0.9"/>
<line x1="225" y1="530.7" x2="225" y2="528.7" stroke="#c4c4c4" stroke-width="0.9"/>
<line x1="230.54" y1="530.7" x2="230.54" y2="529.5" stroke="#c4c4c4" stroke-width="0.9"/>
<line x1="236.09" y1="530.7" x2="236.09" y2="527" stroke="#c4c4c4" stroke-width="0.9"/>
<line x1="241.63" y1="530.7" x2="241.63" y2="525.3" stroke="#c4c4c4" stroke-width="0.9"/>
<line x1="247.18" y1="530.7" x2="247.18" y2="523.3" stroke="#c4c4c4" stroke-width="0.9"/>
<line x1="252.72" y1="530.7" x2="252.72" y2="522.8" stroke="#c4c4c4" stroke-width="0.9"/>
<line x1="258.27" y1="530.7" x2="258.27" y2="522" stroke="#c4c4c4" stroke-width="0.9"/>
<line x1="263.81" y1="530.7" x2="263.81" y2="519.5" stroke="#c4c4c4" stroke-width="0.9"/>
<line x1="269.36" y1="530.7" x2="269.36" y2="519.5" stroke="#c4c4c4" stroke-width="0.9"/>
<line x1="274.9" y1="530.7" x2="274.9" y2="523.7" stroke="#c4c4c4" stroke-width="0.9"/>
<line x1="280.45" y1="530.7" x2="280.45" y2="524.5" stroke="#c4c4c4" stroke-width="0.9"/>
<line x1="286" y1="530.7" x2="286" y2="525.3" stroke="#c4c4c4" stroke-width="0.9"/>
<line x1="291.54" y1="530.7" x2="291.54" y2="525.3" stroke="#c4c4c4" stroke-width="0.9"/>
<line x1="297.08" y1="530.7" x2="297.08" y2="528.7" stroke="#c4c4c4" stroke-width="0.9"/>
<line x1="302.63" y1="530.7" x2="302.63" y2="532" stroke="#c4c4c4" stroke-width="0.9"/>
<line x1="308.18" y1="530.7" x2="308.18" y2="536.2" stroke="#c4c4c4" stroke-width="0.9"/>
<line x1="313.72" y1="530.7" x2="313.72" y2="537.8" stroke="#c4c4c4" stroke-width="0.9"/>
<line x1="319.26" y1="530.7" x2="319.26" y2="541.5" stroke="#c4c4c4" stroke-width="0.9"/>
<line x1="324.81" y1="530.7" x2="324.81" y2="543.6" stroke="#c4c4c4" stroke-width="0.9"/>
<line x1="330.35" y1="530.7" x2="330.35" y2="545" stroke="#c4c4c4" stroke-width="0.9"/>
<line x1="335.9" y1="530.7" x2="335.9" y2="545.6" stroke="#c4c4c4" stroke-width="0.9"/>
<line x1="341.44" y1="530.7" x2="341.44" y2="549" stroke="#c4c4c4" stroke-width="0.9"/>
<line x1="346.99" y1="530.7" x2="346.99" y2="553" stroke="#c4c4c4" stroke-width="0.9"/>
<line x1="352.53" y1="530.7" x2="352.53" y2="559" stroke="#c4c4c4" stroke-width="0.9"/>
<line x1="358.08" y1="530.7" x2="358.08" y2="560" stroke="#c4c4c4" stroke-width="0.9"/>
<line x1="363.62" y1="530.7" x2="363.62" y2="561.6" stroke="#c4c4c4" stroke-width="0.9"/>
<line x1="369.17" y1="530.7" x2="369.17" y2="554.4" stroke="#c4c4c4" stroke-width="0.9"/>
<line x1="374.71" y1="530.7" x2="374.71" y2="549.6" stroke="#c4c4c4" stroke-width="0.9"/>
<line x1="380.26" y1="530.7" x2="380.26" y2="546.4" stroke="#c4c4c4" stroke-width="0.9"/>
<line x1="385.81" y1="530.7" x2="385.81" y2="544.4" stroke="#c4c4c4" stroke-width="0.9"/>
<line x1="391.35" y1="530.7" x2="391.35" y2="545.6" stroke="#c4c4c4" stroke-width="0.9"/>
<line x1="396.89" y1="530.7" x2="396.89" y2="557.6" stroke="#c4c4c4" stroke-width="0.9"/>
<line x1="402.44" y1="530.7" x2="402.44" y2="562.4" stroke="#c4c4c4" stroke-width="0.9"/>
<line x1="407.98" y1="530.7" x2="407.98" y2="563.6" stroke="#c4c4c4" stroke-width="0.9"/>
<line x1="413.53" y1="530.7" x2="413.53" y2="565" stroke="#c4c4c4" stroke-width="0.9"/>
<line x1="419.07" y1="530.7" x2="419.07" y2="568" stroke="#c4c4c4" stroke-width="0.9"/>
<line x1="424.62" y1="530.7" x2="424.62" y2="571.6" stroke="#c4c4c4" stroke-width="0.9"/>
<line x1="430.16" y1="530.7" x2="430.16" y2="574" stroke="#c4c4c4" stroke-width="0.9"/>
<path d="M1.63,542.35 L3.63,543.39 M5.79,544.51 L6.25,544.75 L7.79,545.32 M9.94,546.11 L11,546.5 L11.94,546.95 M14.09,547.97 L15,548.4 L16.09,548.8 M18.25,549.58 L19.4,550 L20.25,550.45 M22.41,551.59 L23,551.9 L24.41,552.4 M26.56,553.17 L27.5,553.5 L28.56,553.92 M30.71,554.78 L31.9,555.25 L32.72,555.32 M34.87,555.5 L36,555.6 L36.87,555.74 M39.03,556.09 L40,556.25 L41.03,556.31 M43.18,556.45 L44,556.5 L45.18,556.72 M47.34,557.11 L48.1,557.25 L49.34,557.39 M51.49,557.64 L52.5,557.75 L53.49,558.06 M55.65,558.73 L56.5,559 L57.65,559.64 M59.8,560.83 L61,561.5 L61.8,561.95 M63.95,563.16 L65,563.75 L65.95,564.31 M68.11,565.58 L70,566.7 L70.11,566.75 M72.27,567.83 L74.27,568.83 M76.42,569.91 L78.42,570.91 M80.58,571.99 L82,572.7 L82.58,572.99 M84.73,574.07 L86.73,575.07 M88.89,575.92 L90.89,576.42 M93.04,576.96 L94,577.2 L95.04,577.38 M97.2,577.77 L98.5,578 L99.2,577.88 M101.35,577.49 L103,577.2 L103.35,577.08 M105.5,576.37 L107.5,575.7 L107.5,575.7 M109.66,574.26 L111.66,572.93 M113.81,571.13 L115.81,569.39 M117.97,567.53 L118,567.5 L119.58,565.53 M121.3,563.38 L122.9,561.38 M124.66,559.22 L126.34,557.22 M128.16,555.07 L129.85,553.07 M131.63,550.91 L133.23,548.91 M134.96,546.75 L136.56,544.75 M138.6,542.6 L140.6,540.6 M142.7,538.45 L144.62,536.44 M146.71,534.29 L148.71,532.29 M150.87,530.13 L151,530 L152.87,528.69 M155.02,527.19 L156,526.5 L157.02,526.12 M159.18,525.31 L160,525 L161.18,524.88 M163.33,524.67 L165,524.5 L165.33,524.5 M167.49,524.5 L169.49,524.5 M171.64,524.5 L172.5,524.5 L173.64,524.9 M175.8,525.65 L177.5,526.25 L177.8,526.35 M179.95,527.07 L181.95,527.73 M184.11,528.45 L185,528.75 L186.11,529.12 M188.26,529.84 L190.26,530.5 M192.42,531.22 L192.5,531.25 L194.42,531.76 M196.57,532.34 L198.57,532.87 M200.72,533.42 L202.72,533.89 M204.88,534.39 L206.88,534.86 M209.03,535.26 L211.03,535.59 M213.19,535.95 L215,536.25 L215.19,536.24 M217.34,536.09 L219.34,535.96 M221.5,535.81 L221.7,535.8 L223.5,535.24 M225.66,534.56 L227.66,533.93 M229.81,533.26 L230,533.2 L231.81,532.76 M233.97,532.24 L235.97,531.76 M238.12,531.24 L238.3,531.2 L240.12,530.72 M242.28,530.16 L244.28,529.64 M246.43,529.07 L246.7,529 L248.43,528.58 M250.59,528.06 L252.59,527.58 M254.74,527.06 L255,527 L256.74,526.58 M258.9,526.06 L260.9,525.58 M263.05,525.06 L263.3,525 L265.05,524.66 M267.2,524.24 L269.2,523.85 M271.36,523.32 L273.36,522.76 M275.51,522.3 L277.51,522.3 M279.67,522.3 L281.67,522.3 M283.82,522.3 L285.82,522.3 M287.98,522.3 L289.98,522.3 M292.13,522.34 L294.13,522.54 M296.29,522.76 L296.7,522.8 L298.29,523.18 M300.44,523.7 L301.7,524 L302.44,524.19 M304.6,524.75 L306.6,525.27 M308.75,526 L310.75,526.68 M312.91,527.53 L314.91,528.41 M317.06,529.44 L319.06,530.74 M321.22,532.09 L323.22,532.89 M325.38,533.75 L327,534.4 L327.38,534.56 M329.53,535.5 L331.53,536.36 M333.69,537.34 L335.69,538.34 M337.84,539.42 L339,540 L339.84,540.34 M342,541.2 L344,542 M346.15,542.9 L348.15,543.76 M350.31,544.7 L351,545 L352.31,545.65 M354.46,546.73 L356.46,547.73 M358.62,548.65 L360.62,549.45 M362.77,550.31 L363,550.4 L364.77,550.87 M366.93,551.45 L368.93,551.98 M371.08,552.35 L373.08,552.68 M375.24,553.02 L377.24,553.15 M379.39,553.29 L381,553.4 L381.39,553.37 M383.55,553.23 L385.55,553.1 M387.7,553 L389.7,553 M391.86,553 L393,553 L393.86,553.06 M396.01,553.2 L398.01,553.33 M400.17,553.52 L402.17,553.72 M404.32,553.93 L405,554 L406.32,554.13 M408.48,554.35 L410.48,554.55 M412.63,554.98 L414.63,555.45 M416.79,555.95 L417,556 L418.79,556.6 M420.94,557.31 L422.94,557.98 M425.1,558.84 L427.1,559.64" fill="none" stroke="#ff5c5c" stroke-width="1.3" stroke-linecap="butt" stroke-linejoin="round"/>
<polyline points="0,633 7.5,631.75 15,634.25 22.5,636.75 30,638 37.5,636.75 42.5,635.5 47.5,633 52.5,638 58.75,641.75 64.5,646.75 70,640 77.5,638 85,635 92.5,632.5 97.5,631 103.75,625.5 110,624.25 115,624.5 121.25,627.25 125,626.75 130,623.75 136.25,625 142.5,625.5 147.5,629.25 152.5,626.75 158.75,633 165,633.5 170,635 175,636.75 180,635 186.25,629.75 191.25,629.75 197,627.5 202.5,632.5 208.75,631 213.75,628 219.5,629.25 225,624.25 230.5,626.75 236.25,629.75 241.25,628 247,625.5 252.5,628.75 257.5,627.5 263.75,625.5 270,628 275,629.25 280,632.25 285,629.75 290,629.75 296.25,633 302.5,636 308.75,636 313,635 318.75,637.5 325,634.75 330,634.75 335,636.25 345,641 352,645 357.5,640.5 363.75,636.75 369.5,629.25 374.5,628 380,629.25 386.25,631 391.25,636.75 397,645.5 402.5,640.5 408,636 413.75,637.5 418.75,639.25 423.75,639.75 429.5,641" fill="none" stroke="#72b6f6" stroke-width="1.25" stroke-linejoin="round" stroke-linecap="round"/>
<polyline points="0,700 3.75,691.25 8.75,685 14.5,682.5 20,692.5 25,703.75 31.25,713 37.5,710 42.5,707.5 47.5,697 52.5,700 58.75,713.75 64.5,730 70,723.75 76.25,715 80,705 86,694.3 91.3,676.2 93.3,675.8 98,675.8 104.7,675.8 110,675.8 115.3,675.8 118,676.6 121.3,679.7 124.7,685 128.7,687.7 132.7,689 136.7,689.4 140.7,687.4 143.3,689.7 146,697 148.7,700.3 152.5,705 158,723 163.75,713.75 169.5,713.25 175,710.75 180,712.5 186.25,702.5 192.5,690 197.5,677 202.5,688.75 208.75,698.75 214.25,707.5 219.5,706.25 225,693.75 230,693.75 236.25,696.25 241.25,706.25 247.5,705 252.5,703.75 258.75,697.5 263.75,693.75 269.5,685 275,690 280,708 285,711 290,709.5 297,704.5 302.5,707 308.75,710.75 313.75,710.75 318.75,712 325,710.5 330,709.5 335,708 340,712.5 346.25,722.5 352,730.5 358.75,727.5 364.5,718.75 369.5,700 375,688.75 380,686.25 385,692.5 391.25,705 397,722 402,724.5 407.5,717.5 413.75,708 420,703 425,701.25 429.5,701.25" fill="none" stroke="#5cc8c0" stroke-width="1.2" stroke-linejoin="round" stroke-linecap="round"/>
<path d="M0,710 L0.36,709.46 M1.8,707.3 L3.13,705.3 M4.57,703.14 L5,702.5 L5.77,701.14 M7.01,698.99 L8.15,696.99 M9.38,694.84 L10,693.75 L10.76,692.84 M12.56,690.68 L14.23,688.68 M16.02,686.52 L16.25,686.25 L17.63,687.98 M19.35,690.13 L20.95,692.13 M22.27,694.28 L23.41,696.28 M24.64,698.44 L25.79,700.44 M27.37,702.6 L29.04,704.6 M30.83,706.75 L32.5,708.75 L32.5,708.75 M34.66,709.61 L36.66,710.41 M38.81,711.21 L40.81,710.01 M42.97,708.72 L44.97,707.52 M47.12,706.23 L49.12,705.03 M51.28,703.74 L53.28,703.24 M55.43,702.71 L56.25,702.5 L57.19,703.68 M58.92,705.84 L60.52,707.84 M62.06,709.99 L63.38,711.99 M64.8,714.14 L66.11,716.14 M67.59,718.3 L69.05,720.3 M70.63,722.46 L72.1,724.46 M74.11,723.79 L76.11,722.29 M77.93,720.49 L79.04,718.49 M80.23,716.33 L81.34,714.33 M82.54,712.17 L83.65,710.17 M84.64,708.02 L85.54,706.02 M86.45,703.87 L87.25,701.87 M88.11,699.71 L88.91,697.71 M89.76,695.55 L90.56,693.55 M91.47,691.4 L92.62,689.4 M93.86,687.25 L95.01,685.25 M96.25,683.09 L96.7,682.3 L97.75,681.09 M99.63,678.93 L100.7,677.7 L101.47,677.32 M103.62,676.24 L104.7,675.7 L105.62,675.58 M107.78,675.29 L109.78,675.03 M111.93,675.15 L113.93,675.3 M116.09,675.63 L118.09,676.23 M120.24,676.86 L120.7,677 L122.24,678.16 M124.4,679.79 L126,681 L126.4,681.3 M128.55,682.92 L130.55,684.43 M132.71,685.7 L134.71,686.7 M136.86,687.74 L138.86,688.23 M141.02,688.76 L142,689 L143.02,689.69 M145.17,691.14 L146,691.7 L146.87,692.87 M148.48,695.03 L149.97,697.03 M151.56,699.18 L152.99,701.18 M154.53,703.34 L155.95,705.34 M157.49,707.49 L157.5,707.5 L159.49,709.49 M161.65,711.65 L163.65,713.65 M165.8,714.78 L167.8,715.78 M169.96,715.65 L171.96,714.65 M174.11,713.68 L176.11,713.28 M178.27,712.85 L180,712.5 L180.27,712.34 M182.42,711.05 L184.42,709.85 M186.45,708.42 L187.7,706.42 M189.05,704.27 L190.3,702.27 M191.65,700.11 L192.5,698.75 L192.95,698.11 M194.49,695.96 L195.92,693.96 M197.46,691.8 L198.75,690 L198.95,689.82 M201.1,687.88 L203.1,686.08 M205.26,686.85 L207.26,688.65 M209.16,690.66 L210.41,692.66 M211.76,694.82 L213.01,696.82 M214.36,698.97 L215,700 L215.97,700.87 M218.13,702.81 L220,704.5 L220.13,704.43 M222.28,703.31 L224.28,702.27 M226.44,701.14 L228.44,699.94 M230.59,698.65 L232.5,697.5 L232.59,697.45 M234.75,696.38 L236.75,695.38 M238.9,696.4 L240.9,698.4 M243.06,700.37 L245.06,701.7 M247.21,703.14 L249.21,704.47 M251.37,704.45 L253.37,703.65 M255.52,702.79 L256.25,702.5 L257.52,701.48 M259.68,699.76 L261.68,698.16 M263.83,696.44 L265.83,694.84 M267.99,693.11 L268.75,692.5 L269.99,692.01 M272.14,691.14 L274.14,690.34 M276.3,691.04 L278.3,692.64 M280.45,694.36 L281.25,695 L282.05,696.2 M283.49,698.36 L284.82,700.36 M286.26,702.51 L287.46,704.51 M288.75,706.67 L289.95,708.67 M292.07,708.5 L294.07,708.26 M296.23,708 L296.25,708 L298.23,707.68 M300.38,707.34 L302.38,707.02 M304.54,707.57 L306.54,708.13 M308.69,708.73 L308.75,708.75 L310.69,709.24 M312.85,709.77 L313.75,710 L314.85,710.27 M317,710.81 L318.75,711.25 L319,711.22 M321.16,710.96 L323.16,710.72 M325.31,710.47 L327.31,710.27 M329.47,710.05 L330,710 L331.47,709.88 M333.62,709.71 L335.62,709.55 M337.78,710.23 L339.78,711.19 M341.93,712.23 L342.5,712.5 L343.93,713.93 M346.09,716.09 L348.09,718.09 M350.24,720.24 L352.24,722.24 M354.4,724.4 L355,725 L356.4,725.28 M358.55,725.71 L360.55,726.11 M362.08,724.79 L363.22,722.79 M364.46,720.64 L365.6,718.64 M366.64,716.48 L367.41,714.48 M368.24,712.33 L369.01,710.33 M369.84,708.17 L370.61,706.17 M371.43,704.02 L372.2,702.02 M373.44,699.86 L374.79,697.86 M376.24,695.71 L377.59,693.71 M379.2,691.68 L381.2,690.24 M383.35,688.69 L385,687.5 L385.28,687.85 M387,690.01 L388.6,692.01 M390.21,694.16 L391.21,696.16 M392.28,698.32 L393.28,700.32 M394.36,702.47 L395.36,704.47 M396.48,706.63 L397.73,708.63 M399.08,710.78 L400.33,712.78 M401.68,714.94 L402.5,716.25 L403.19,716.66 M405.34,717.95 L407.34,719.15 M409.5,719.44 L411.5,717.94 M413.65,716.32 L413.75,716.25 L415.65,714.35 M417.81,712.19 L419.81,710.19 M421.96,708.04 L423.96,706.04 M426.12,704.07 L428.12,702.4" fill="none" stroke="#ff5c5c" stroke-width="1.3" stroke-linecap="butt" stroke-linejoin="round"/>
<line x1="0" y1="513.5" x2="558" y2="513.5" stroke="#6e6e6e" stroke-width="2.2"/>
<line x1="0" y1="591.3" x2="558" y2="591.3" stroke="#6e6e6e" stroke-width="2.2"/>
<line x1="0" y1="668.8" x2="558" y2="668.8" stroke="#6e6e6e" stroke-width="2.2"/>
<line x1="0" y1="737.7" x2="558" y2="737.7" stroke="#6a6a6a" stroke-width="1.6"/>
<line x1="557.5" y1="0" x2="557.5" y2="738.4" stroke="#7a7a7a" stroke-width="1.4"/>
<line x1="557.5" y1="24.3" x2="559.7" y2="24.3" stroke="#444" stroke-width="0.9"/>
<line x1="557.5" y1="58.25" x2="559.7" y2="58.25" stroke="#444" stroke-width="0.9"/>
<line x1="557.5" y1="92.2" x2="559.7" y2="92.2" stroke="#444" stroke-width="0.9"/>
<line x1="557.5" y1="126.15" x2="559.7" y2="126.15" stroke="#444" stroke-width="0.9"/>
<line x1="557.5" y1="160.1" x2="559.7" y2="160.1" stroke="#444" stroke-width="0.9"/>
<line x1="557.5" y1="194.05" x2="559.7" y2="194.05" stroke="#444" stroke-width="0.9"/>
<line x1="557.5" y1="228" x2="559.7" y2="228" stroke="#444" stroke-width="0.9"/>
<line x1="557.5" y1="261.95" x2="559.7" y2="261.95" stroke="#444" stroke-width="0.9"/>
<line x1="557.5" y1="295.9" x2="559.7" y2="295.9" stroke="#444" stroke-width="0.9"/>
<line x1="557.5" y1="329.85" x2="559.7" y2="329.85" stroke="#444" stroke-width="0.9"/>
<line x1="557.5" y1="363.8" x2="559.7" y2="363.8" stroke="#444" stroke-width="0.9"/>
<line x1="557.5" y1="397.75" x2="559.7" y2="397.75" stroke="#444" stroke-width="0.9"/>
<line x1="557.5" y1="431.7" x2="559.7" y2="431.7" stroke="#444" stroke-width="0.9"/>
<line x1="557.5" y1="465.65" x2="559.7" y2="465.65" stroke="#444" stroke-width="0.9"/>
<line x1="557.5" y1="499.6" x2="559.7" y2="499.6" stroke="#444" stroke-width="0.9"/>
<line x1="557.5" y1="530.7" x2="559.7" y2="530.7" stroke="#444" stroke-width="0.9"/>
<line x1="557.5" y1="615.1" x2="559.7" y2="615.1" stroke="#444" stroke-width="0.9"/>
<line x1="557.5" y1="645.2" x2="559.7" y2="645.2" stroke="#444" stroke-width="0.9"/>
<line x1="557.5" y1="684.1" x2="559.7" y2="684.1" stroke="#444" stroke-width="0.9"/>
<line x1="557.5" y1="724.4" x2="559.7" y2="724.4" stroke="#444" stroke-width="0.9"/>
<line x1="64.27" y1="737.8" x2="64.27" y2="740.6" stroke="#444" stroke-width="0.9"/>
<line x1="130.81" y1="737.8" x2="130.81" y2="740.6" stroke="#444" stroke-width="0.9"/>
<line x1="197.35" y1="737.8" x2="197.35" y2="740.6" stroke="#444" stroke-width="0.9"/>
<line x1="263.89" y1="737.8" x2="263.89" y2="740.6" stroke="#444" stroke-width="0.9"/>
<line x1="330.43" y1="737.8" x2="330.43" y2="740.6" stroke="#444" stroke-width="0.9"/>
<line x1="396.97" y1="737.8" x2="396.97" y2="740.6" stroke="#444" stroke-width="0.9"/>
<line x1="463.51" y1="737.8" x2="463.51" y2="740.6" stroke="#444" stroke-width="0.9"/>
<line x1="0" y1="754.4" x2="600" y2="754.4" stroke="#e2e2e2" stroke-width="1.2"/>
<text x="562.4" y="28.3" font-size="9.6" fill="#333333" stroke="#333333" stroke-width="0.15" textLength="31.2" lengthAdjust="spacingAndGlyphs">24827.0</text>
<text x="562.4" y="62.25" font-size="9.6" fill="#333333" stroke="#333333" stroke-width="0.15" textLength="31.2" lengthAdjust="spacingAndGlyphs">24715.0</text>
<text x="562.4" y="96.2" font-size="9.6" fill="#333333" stroke="#333333" stroke-width="0.15" textLength="31.2" lengthAdjust="spacingAndGlyphs">24601.0</text>
<text x="562.4" y="130.15" font-size="9.6" fill="#333333" stroke="#333333" stroke-width="0.15" textLength="31.2" lengthAdjust="spacingAndGlyphs">24489.0</text>
<text x="562.4" y="164.1" font-size="9.6" fill="#333333" stroke="#333333" stroke-width="0.15" textLength="31.2" lengthAdjust="spacingAndGlyphs">24377.0</text>
<text x="562.4" y="198.05" font-size="9.6" fill="#333333" stroke="#333333" stroke-width="0.15" textLength="31.2" lengthAdjust="spacingAndGlyphs">24263.0</text>
<text x="562.4" y="266" font-size="9.6" fill="#333333" stroke="#333333" stroke-width="0.15" textLength="31.2" lengthAdjust="spacingAndGlyphs">24039.0</text>
<text x="562.4" y="299.9" font-size="9.6" fill="#333333" stroke="#333333" stroke-width="0.15" textLength="31.2" lengthAdjust="spacingAndGlyphs">23925.0</text>
<text x="562.4" y="333.9" font-size="9.6" fill="#333333" stroke="#333333" stroke-width="0.15" textLength="31.2" lengthAdjust="spacingAndGlyphs">23813.0</text>
<text x="562.4" y="367.85" font-size="9.6" fill="#333333" stroke="#333333" stroke-width="0.15" textLength="31.2" lengthAdjust="spacingAndGlyphs">23701.0</text>
<text x="562.4" y="401.8" font-size="9.6" fill="#333333" stroke="#333333" stroke-width="0.15" textLength="31.2" lengthAdjust="spacingAndGlyphs">23587.0</text>
<text x="562.4" y="435.7" font-size="9.6" fill="#333333" stroke="#333333" stroke-width="0.15" textLength="31.2" lengthAdjust="spacingAndGlyphs">23475.0</text>
<text x="562.4" y="469.7" font-size="9.6" fill="#333333" stroke="#333333" stroke-width="0.15" textLength="31.2" lengthAdjust="spacingAndGlyphs">23363.0</text>
<text x="562.4" y="503.6" font-size="9.6" fill="#333333" stroke="#333333" stroke-width="0.15" textLength="31.2" lengthAdjust="spacingAndGlyphs">23249.0</text>
<rect x="558.5" y="224.1" width="38.8" height="9.3" fill="#2f902f"/>
<text x="562.4" y="232.2" font-size="9.6" fill="#ffffff" textLength="31.4" lengthAdjust="spacingAndGlyphs">24150.8</text>
<rect x="558.5" y="251.6" width="38.8" height="9.3" fill="#2f902f"/>
<text x="562.4" y="259.7" font-size="9.6" fill="#ffffff" textLength="31.4" lengthAdjust="spacingAndGlyphs">24058.2</text>
<rect x="558.5" y="280.2" width="38.8" height="9.3" fill="#2f902f"/>
<text x="562.4" y="288.3" font-size="9.6" fill="#ffffff" textLength="31.4" lengthAdjust="spacingAndGlyphs">23965.7</text>
<rect x="558.5" y="354.1" width="38.8" height="9.3" fill="#ff0000"/>
<text x="562.4" y="362.2" font-size="9.6" fill="#ffffff" textLength="31.4" lengthAdjust="spacingAndGlyphs">23718.9</text>
<rect x="558.5" y="381.6" width="38.8" height="9.3" fill="#ff0000"/>
<text x="562.4" y="389.7" font-size="9.6" fill="#ffffff" textLength="31.4" lengthAdjust="spacingAndGlyphs">23626.3</text>
<rect x="558.5" y="409.7" width="38.8" height="9.3" fill="#ff0000"/>
<text x="562.4" y="417.8" font-size="9.6" fill="#ffffff" textLength="31.4" lengthAdjust="spacingAndGlyphs">23533.8</text>
<rect x="558.3" y="312.1" width="38.8" height="8.7" fill="#000000"/>
<text x="562.4" y="320.2" font-size="9.6" fill="#ffffff" textLength="31.4" lengthAdjust="spacingAndGlyphs">23856.4</text>
<text x="560" y="523.9" font-size="8.7" fill="#333333" stroke="#333333" stroke-width="0.15" textLength="21" lengthAdjust="spacingAndGlyphs">34.51</text>
<text x="560" y="533.9" font-size="8.7" fill="#333333" stroke="#333333" stroke-width="0.15" textLength="17" lengthAdjust="spacingAndGlyphs">0.00</text>
<text x="560" y="587.9" font-size="8.7" fill="#333333" stroke="#333333" stroke-width="0.15" textLength="29" lengthAdjust="spacingAndGlyphs">-131.01</text>
<text x="560" y="601.3" font-size="8.7" fill="#333333" stroke="#333333" stroke-width="0.15" textLength="14.2" lengthAdjust="spacingAndGlyphs">100</text>
<text x="560" y="618.5" font-size="8.7" fill="#333333" stroke="#333333" stroke-width="0.15" textLength="8.8" lengthAdjust="spacingAndGlyphs">70</text>
<text x="560" y="648.5" font-size="8.7" fill="#333333" stroke="#333333" stroke-width="0.15" textLength="8.8" lengthAdjust="spacingAndGlyphs">30</text>
<text x="560" y="665.7" font-size="8.7" fill="#333333" stroke="#333333" stroke-width="0.15" textLength="4.8" lengthAdjust="spacingAndGlyphs">0</text>
<text x="560" y="679" font-size="8.7" fill="#333333" stroke="#333333" stroke-width="0.15" textLength="14.2" lengthAdjust="spacingAndGlyphs">100</text>
<text x="560" y="687.1" font-size="8.7" fill="#333333" stroke="#333333" stroke-width="0.15" textLength="8.8" lengthAdjust="spacingAndGlyphs">80</text>
<text x="560" y="727.3" font-size="8.7" fill="#333333" stroke="#333333" stroke-width="0.15" textLength="8.8" lengthAdjust="spacingAndGlyphs">20</text>
<text x="560" y="735.8" font-size="8.7" fill="#333333" stroke="#333333" stroke-width="0.15" textLength="4.8" lengthAdjust="spacingAndGlyphs">0</text>
<text x="0.6" y="525.7" font-size="9.6" fill="#333333" stroke="#333333" stroke-width="0.15" textLength="113.4" lengthAdjust="spacingAndGlyphs">MACD(12,26,9) -95.12 -68.32</text>
<text x="0.6" y="603" font-size="9.4" fill="#333333" stroke="#333333" stroke-width="0.15" textLength="63.6" lengthAdjust="spacingAndGlyphs">RSI(14) 35.9495</text>
<text x="0.6" y="680.8" font-size="10" fill="#333333" stroke="#333333" stroke-width="0.15" textLength="117.4" lengthAdjust="spacingAndGlyphs">Stoch(5,3,3) 54.2258 53.6399</text>
<text x="-3.6" y="748.9" font-size="9.6" fill="#333333" stroke="#333333" stroke-width="0.15" textLength="48.6" lengthAdjust="spacingAndGlyphs">14 Oct 2025</text>
<text x="63.8" y="748.9" font-size="9.6" fill="#333333" stroke="#333333" stroke-width="0.15" textLength="50.3" lengthAdjust="spacingAndGlyphs">17 Oct 04:16</text>
<text x="130.4" y="748.9" font-size="9.6" fill="#333333" stroke="#333333" stroke-width="0.15" textLength="50.3" lengthAdjust="spacingAndGlyphs">21 Oct 12:16</text>
<text x="196.4" y="748.9" font-size="9.6" fill="#333333" stroke="#333333" stroke-width="0.15" textLength="50.6" lengthAdjust="spacingAndGlyphs">24 Oct 00:16</text>
<text x="263" y="748.9" font-size="9.6" fill="#333333" stroke="#333333" stroke-width="0.15" textLength="50.6" lengthAdjust="spacingAndGlyphs">28 Oct 09:16</text>
<text x="329.6" y="748.9" font-size="9.6" fill="#333333" stroke="#333333" stroke-width="0.15" textLength="51" lengthAdjust="spacingAndGlyphs">30 Oct 17:16</text>
<text x="395.8" y="748.9" font-size="9.6" fill="#333333" stroke="#333333" stroke-width="0.15" textLength="47.2" lengthAdjust="spacingAndGlyphs">4 Nov 05:16</text>
</svg>
</body></html>
